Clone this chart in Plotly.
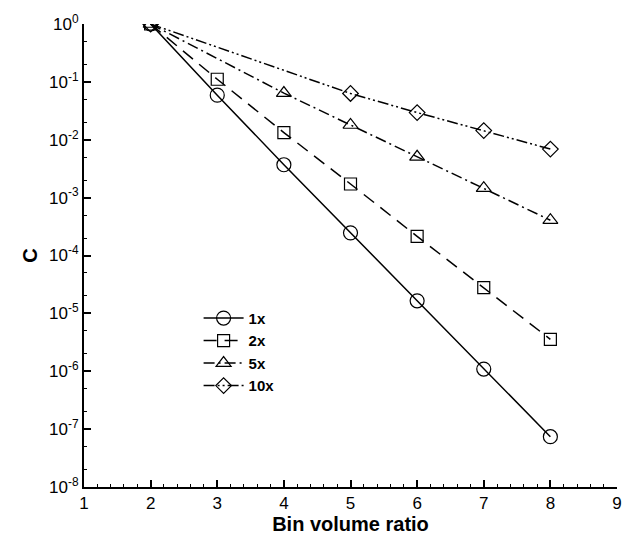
import plotly.graph_objects as go

# ---- data ----
x_1x = [2, 3, 4, 5, 6, 7, 8]
c_1x = [1.0, 0.059, 0.0037, 2.46e-4, 1.65e-5, 1.09e-6, 7.4e-8]

x_2x = [2, 3, 4, 5, 6, 7, 8]
c_2x = [1.0, 0.111, 0.0133, 0.00172, 2.14e-4, 2.78e-5, 3.56e-6]

x_5x = [2, 4, 5, 6, 7, 8]
c_5x = [1.0, 0.064, 0.0180, 0.00507, 0.00146, 4.07e-4]

x_10x = [2, 5, 6, 7, 8]
c_10x = [1.0, 0.063, 0.0295, 0.0144, 0.0069]

series_names = ["<b>1x</b>", "<b>2x</b>", "<b>5x</b>", "<b>10x</b>"]

x_tick_vals = [1, 2, 3, 4, 5, 6, 7, 8, 9]
y_tick_vals = [1, 1e-1, 1e-2, 1e-3, 1e-4, 1e-5, 1e-6, 1e-7, 1e-8]
y_tick_text = ["10<sup>0</sup>", "10<sup>-1</sup>", "10<sup>-2</sup>", "10<sup>-3</sup>",
               "10<sup>-4</sup>", "10<sup>-5</sup>", "10<sup>-6</sup>", "10<sup>-7</sup>",
               "10<sup>-8</sup>"]

FONT = "Liberation Sans, Arial, Helvetica, sans-serif"

styles = [
    dict(dash="solid", symbol="circle-open", size=14),
    dict(dash="13px,8px", symbol="square-open", size=12),
    dict(dash="11px,4px,2px,4px", symbol="triangle-up-open", size=13),
    dict(dash="11px,3px,2px,3px,2px,3px", symbol="diamond-open", size=12),
]

fig = go.Figure()
for name, xs, ys, st in zip(series_names, [x_1x, x_2x, x_5x, x_10x],
                            [c_1x, c_2x, c_5x, c_10x], styles):
    fig.add_trace(go.Scatter(
        x=xs, y=ys, name=name, mode="lines+markers",
        line=dict(color="black", width=1.5, dash=st["dash"]),
        marker=dict(symbol=st["symbol"], size=st["size"], color="black",
                    line=dict(color="black", width=1.2)),
    ))

fig.update_layout(
    width=634, height=545,
    margin=dict(l=84, r=12, t=18, b=58),
    paper_bgcolor="white", plot_bgcolor="white",
    font=dict(family=FONT, color="black", size=16),
    showlegend=True,
    legend=dict(x=0.215, y=0.40, xanchor="left", yanchor="top",
                bgcolor="rgba(0,0,0,0)", font=dict(family=FONT, size=15, color="black"),
                tracegroupgap=0, itemwidth=40),
)

fig.update_xaxes(
    range=[1, 9], tickvals=x_tick_vals, ticks="inside", ticklen=7, tickwidth=1.5,
    tickcolor="black", showline=True, linecolor="black", linewidth=2,
    showgrid=False, zeroline=False, tickfont=dict(size=17),
    minor=dict(ticks="inside", dtick=0.2, ticklen=3, tickwidth=1, tickcolor="black", showgrid=False),
    title=dict(text="<b>Bin volume ratio</b>", font=dict(size=20), standoff=4),
)
fig.update_yaxes(
    type="log", range=[-8, 0], tickvals=y_tick_vals, ticktext=y_tick_text,
    ticks="inside", ticklen=7, tickwidth=1.5, tickcolor="black",
    showline=True, linecolor="black", linewidth=2, showgrid=False, zeroline=False,
    tickfont=dict(size=17),
    minor=dict(ticks="inside", ticklen=3, tickwidth=1, tickcolor="black", showgrid=False),
    title=dict(text="<b>C</b>", font=dict(size=20), standoff=6),
)

fig.write_html("out.html")
